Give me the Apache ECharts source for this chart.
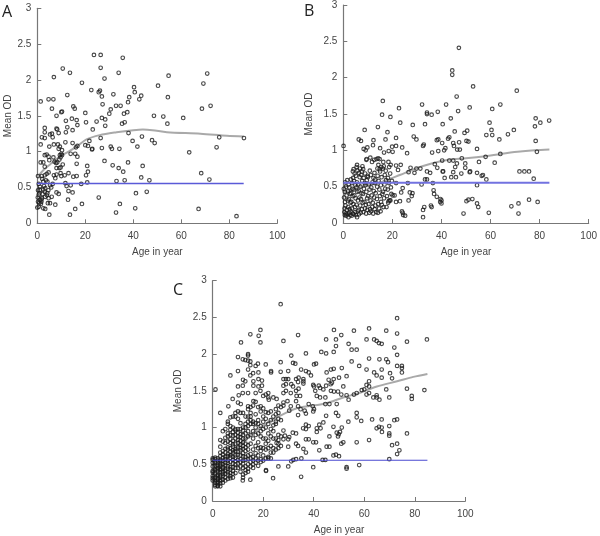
<!DOCTYPE html>
<html><head><meta charset="utf-8">
<script src="https://cdn.jsdelivr.net/npm/echarts@6/dist/echarts.min.js"></script>
<style>html,body{margin:0;padding:0;background:#fff}#c{width:600px;height:536px}</style>
</head><body><div id="c"></div>
<script>
const xTicks=[0,20,40,60,80,100];
const yTicks=[0,0.5,1,1.5,2,2.5,3];
const cutoff=0.555;
const trendA=[[0,.64],[2.5,.74],[6,.84],[9.4,.93],[13,1.0],[16.4,1.07],[20.5,1.17],[26,1.23],[33,1.27],[40,1.3],[44,1.31],[48,1.3],[54,1.27],[68,1.25],[79,1.22],[86,1.21]];
const trendB=[[0,.42],[5,.47],[10,.52],[16,.57],[23,.66],[29.5,.75],[36,.82],[43,.87],[50,.89],[58,.92],[64,.95],[71,.98],[78,1.0],[84,1.01]];
const trendC=[[0,.4],[5,.55],[10,.75],[15,.9],[20,1.03],[26.6,1.16],[33,1.26],[40,1.3],[45,1.33],[51.7,1.41],[58,1.47],[65,1.56],[73,1.63],[79.4,1.69],[85,1.73]];
const pointsA=[[23.6,2.35],[26.4,2.35],[35.6,2.31],[10.6,2.16],[13.6,2.1],[26.4,2.17],[33.9,2.1],[6.9,2.04],[28,2.02],[18.6,1.96],[40.3,1.9],[50.3,1.92],[54.7,2.06],[70.8,2.09],[69.2,1.95],[22.5,1.86],[26.1,1.85],[25.6,1.83],[40.6,1.83],[31.7,1.8],[12.5,1.79],[26.9,1.77],[38.3,1.76],[43.3,1.78],[54.4,1.76],[42.5,1.73],[1.4,1.7],[4.7,1.73],[6.7,1.73],[37.8,1.69],[27.2,1.66],[32.8,1.64],[34.7,1.64],[15,1.63],[15.6,1.6],[6.1,1.6],[68.6,1.6],[72.2,1.64],[10.3,1.56],[10,1.55],[20,1.54],[30,1.53],[30.6,1.59],[36.1,1.53],[37.5,1.55],[8,1.5],[48.6,1.5],[52.5,1.49],[60.8,1.47],[14.4,1.46],[11.9,1.43],[16.4,1.44],[20.3,1.41],[24.7,1.42],[26.9,1.47],[28.3,1.45],[16.7,1.37],[12.5,1.34],[28.3,1.36],[35.3,1.39],[36.4,1.41],[54.2,1.39],[3.1,1.33],[8,1.32],[8.3,1.31],[14.7,1.3],[11.9,1.27],[3.1,1.27],[23.1,1.31],[5.3,1.24],[6.1,1.25],[8.9,1.26],[38,1.26],[1.9,1.2],[3.1,1.19],[6.4,1.2],[26.4,1.19],[43.6,1.21],[39.7,1.15],[47.8,1.16],[75.8,1.2],[86.1,1.19],[21.7,1.15],[11.7,1.13],[14.7,1.12],[48.9,1.12],[1.4,1.1],[6.9,1.1],[8.6,1.1],[9.4,1.07],[5,1.07],[20,1.09],[21.1,1.08],[16.7,1.08],[16.1,1.06],[30.6,1.07],[31.1,1.04],[34.2,1.04],[41.7,1.07],[74.7,1.06],[26.9,1.05],[22.8,1.03],[22.9,1.04],[8.9,1.04],[10.3,1.02],[63.3,.99],[3.1,.95],[3.9,.96],[4.7,.93],[9.4,.95],[10,.97],[10.3,.95],[9.7,.92],[13.9,.97],[15.8,.97],[16.7,.93],[6.7,.92],[9.2,.89],[5,.88],[28,.87],[1.4,.85],[2.5,.85],[7.2,.86],[8.3,.85],[7.8,.84],[16.4,.83],[37.8,.85],[10.6,.82],[3.1,.79],[20.8,.8],[31.4,.81],[43.9,.8],[33.9,.77],[8,.77],[9.2,.77],[9.7,.78],[21.1,.72],[35.8,.72],[13,.7],[68.3,.7],[4.7,.71],[3.1,.67],[.3,.66],[1.9,.66],[3.9,.69],[6.9,.67],[8,.68],[9.7,.7],[10,.66],[11.4,.67],[15,.65],[16.4,.66],[20.3,.67],[43.3,.64],[71.7,.61],[7.5,.63],[3.6,.6],[2.5,.58],[33,.59],[36.4,.6],[46.7,.6],[20.8,.57],[.6,.55],[1.1,.51],[4.2,.58],[5.3,.53],[6.4,.55],[11.7,.56],[12.2,.52],[13.9,.53],[18.3,.55],[1.1,.46],[2.5,.47],[.3,.46],[3.1,.44],[13,.45],[14.7,.43],[41.1,.42],[45.6,.44],[8,.43],[8.9,.41],[4.2,.42],[.6,.4],[3.3,.37],[4.7,.35],[25.6,.36],[12.8,.33],[1.1,.33],[1.7,.33],[.3,.3],[.8,.28],[1.7,.3],[4.4,.28],[5.3,.28],[7.5,.26],[18.6,.27],[34.4,.27],[.6,.23],[2.5,.21],[3.3,.2],[15.8,.2],[40.8,.21],[67.2,.2],[5,.12],[13.6,.12],[32.8,.15],[83,.1],[0,.22],[1.9,.35],[1.5,.27],[.2,.36],[2.8,.52],[4,.39],[.9,.42],[2,.62],[3.3,.49],[2.2,.41],[4.6,.46],[5.8,.5],[6,.37]];
const pointsB=[[47.1,2.41],[44.4,2.1],[44.4,2.04],[52.9,1.88],[70.7,1.82],[46.2,1.74],[16.1,1.68],[22.7,1.58],[32.1,1.63],[41.9,1.63],[51.5,1.59],[60.7,1.57],[64,1.63],[34.1,1.52],[34.1,1.5],[36,1.49],[38.5,1.53],[46.8,1.54],[15.8,1.49],[19.2,1.46],[43.8,1.44],[78.4,1.44],[59.6,1.38],[23.2,1.38],[28.3,1.35],[33.3,1.36],[40.5,1.36],[80.3,1.38],[83.9,1.41],[78.1,1.33],[14.1,1.32],[8.7,1.28],[69.5,1.28],[45.4,1.26],[50.5,1.27],[49.4,1.24],[60.4,1.28],[60.7,1.21],[58.3,1.21],[67.1,1.22],[18,1.25],[28.7,1.19],[29.8,1.15],[43.2,1.18],[42.7,1.16],[6.3,1.15],[7.2,1.13],[12.3,1.14],[17.2,1.15],[21.5,1.17],[38.1,1.14],[38.7,1.15],[40.3,1.1],[44.8,1.1],[47.2,1.11],[50.2,1.13],[51,1.12],[63.6,1.15],[78.4,1.13],[.1,1.06],[12.1,1.07],[9.8,1.04],[8.3,1.02],[9.1,1],[15,1.03],[19.9,1.05],[21.5,1.06],[24,1.04],[32.5,1.06],[32.8,1.08],[41.6,1.03],[41.1,1],[38.7,.99],[45.1,1.06],[46.4,1.01],[54.5,1.02],[18.5,.99],[16.6,.97],[20.1,.98],[26,.96],[36.2,.97],[47.5,1.01],[78.9,.98],[64,.95],[9.4,.87],[11,.9],[12.6,.87],[14.2,.89],[14.8,.88],[48.3,.89],[58,.91],[40.3,.86],[43.2,.86],[44.8,.86],[55.3,.84],[61.7,.83],[46.3,.82],[49.7,.82],[37.3,.81],[21.5,.79],[23.4,.8],[49.7,.76],[38.3,.76],[27.4,.76],[29.8,.75],[31.4,.75],[45.6,.77],[22.3,.73],[40.5,.71],[40.7,.71],[34.1,.71],[35.4,.69],[26.6,.7],[29,.69],[51.5,.7],[51.7,.71],[54.5,.69],[48.1,.68],[44.8,.7],[56.4,.65],[56.9,.66],[58.3,.6],[71.8,.71],[73.8,.71],[75.7,.71],[77.6,.61],[41.3,.62],[44,.63],[45.9,.63],[34.1,.6],[33.3,.6],[36.5,.55],[26.3,.55],[31.9,.53],[54.5,.52],[21.5,.55],[36.8,.45],[37,.4],[38.1,.36],[39.6,.33],[40,.31],[39.5,.29],[40,.27],[35.7,.24],[36,.22],[33,.22],[32.5,.18],[32.5,.08],[51,.32],[50.2,.3],[52.6,.33],[54.5,.27],[55,.22],[49,.13],[59.3,.14],[68.5,.23],[71.4,.27],[71.4,.13],[75.7,.32],[79.2,.29],[24.2,.48],[23.6,.42],[27.1,.42],[28.2,.41],[27.9,.37],[26.6,.31],[23.1,.3],[21.5,.29],[20.1,.38],[20.9,.38],[18.5,.3],[23.9,.16],[24.2,.14],[24.4,.11],[25.2,.1]];
const denseB=[[.08,[2.1,5.6]],[.1,[1.2,3.4]],[.11,[.6,2.8,5.2]],[.12,[1.7,4.3,6.4]],[.13,[1,3.9,9.3,12.2]],[.14,[2.4,7.1,10.6,14.1]],[.15,[.4,4.8,8.2,13.4]],[.16,[3,5.9,11.3,15.2]],[.18,[1.4,6.2,9.8]],[.19,[2.6,7.6,10.9,12.8]],[.2,[.5,3.6,8.8,14.6]],[.22,[2,4.7,11.8,16.4,17.6]],[.24,[.9,6.9,13.1]],[.25,[5.4,9.2,15.7]],[.26,[4.1,10.3,14.2]],[.28,[2.9,7.9,12,18.3]],[.29,[.7,3.3,8.6,15.4]],[.31,[1.8,6,11.1,18.9,19.2]],[.33,[2.3,7.2,13.7]],[.34,[5,9.7,16.6]],[.35,[.3,6.6,12.6]],[.37,[3.8,10.1,14.9,17.8]],[.38,[1.3,4.5,11.6]],[.4,[2.7,8,15.9,19.6]],[.41,[3.2,7.4,13.2]],[.43,[.6,5.7,9.4,16.2]],[.44,[1.9,6.3,12.4]],[.46,[4.2,10.7,14.7,18.1]],[.47,[.2,3.7,8.4,17.1]],[.49,[2.5,5.3,11.4,19.4]],[.5,[1.1,7,13.8]],[.52,[4.9,9,15.3]],[.53,[2.2,6.1,10.4,16.8]],[.55,[3.5,8.7,12.9,18.6]],[.56,[.8,5.5,11.9]],[.58,[4.4,7.7,14.4,19.8]],[.59,[1.6,9.6,17.4]],[.6,[3.1,13]],[.62,[4,8.3,12.3,18.2]],[.63,[6.7,10,15.6]],[.65,[5.1,9.9,14]],[.66,[7.3,11.2,16.9]],[.68,[4.6,8.9,19.1]],[.69,[6.4,12.7]],[.71,[3.9,7.5,15]],[.72,[5.8,10.8,17.3]],[.74,[4.2,8.1,14.8]],[.75,[6.8,13.9,16.1]],[.77,[5.4,15.5,18.7]],[.78,[7.8,16.5]],[.8,[5.6,14.3,19.3]],[.84,[11.7,16.3,18.4]],[.88,[9.5,13.5]]];
const pointsC=[[26.9,2.68],[73,2.49],[48,2.33],[18.9,2.33],[61.9,2.35],[55.9,2.32],[68.7,2.32],[14.9,2.27],[33.8,2.26],[18.2,2.25],[73,2.28],[50.9,2.26],[44.9,2.2],[48.8,2.2],[60.9,2.2],[63.9,2.2],[84.8,2.2],[11.2,2.16],[18.9,2.16],[28,2.18],[64.9,2.18],[65.8,2.15],[66.9,2.14],[76.9,2.17],[53.8,2.14],[48.8,2.11],[71.9,2.09],[55,2.06],[57,2.06],[43,2.03],[44.9,2.01],[47.9,2.03],[36.9,2.01],[73,1.99],[14,2],[14,1.98],[10,1.96],[31.1,1.98],[61.9,1.94],[66,1.93],[68.7,1.93],[11.9,1.93],[12.9,1.92],[14,1.91],[69.4,1.89],[14.9,1.9],[26.9,1.89],[55,1.9],[31.8,1.88],[32.7,1.87],[40.1,1.86],[40.9,1.87],[17.9,1.87],[17,1.84],[21,1.86],[58,1.84],[73,1.84],[74.9,1.84],[74.9,1.81],[14.9,1.85],[51.1,1.81],[46.8,1.79],[47.9,1.8],[60.9,1.79],[66.9,1.79],[35,1.79],[14,1.79],[10,1.77],[18.1,1.75],[14.9,1.71],[16,1.74],[23.1,1.77],[23.1,1.75],[26.9,1.76],[29.9,1.77],[36.9,1.77],[38,1.75],[45.1,1.75],[63.9,1.75],[74.9,1.75],[70.2,1.74],[64.9,1.71],[66.9,1.68],[71,1.67],[7,1.71],[38.9,1.71],[53,1.7],[50,1.68],[47.9,1.66],[45.9,1.65],[28,1.66],[29,1.66],[29.9,1.66],[33,1.66],[34,1.68],[35.9,1.66],[12,1.65],[12.9,1.63],[16.1,1.63],[18.1,1.66],[19.5,1.64],[35.9,1.63],[35.9,1.6],[33.8,1.62],[61.9,1.63],[47.2,1.61],[28,1.57],[29,1.59],[31.1,1.59],[31.8,1.56],[10,1.56],[11.9,1.57],[16.1,1.57],[18.1,1.56],[19.5,1.57],[39.8,1.58],[40.1,1.56],[42,1.57],[42.5,1.54],[44.9,1.57],[46.7,1.59],[51.7,1.56],[60.9,1.58],[61.9,1.56],[1.1,1.52],[28,1.47],[29,1.5],[33,1.5],[34,1.53],[40.6,1.5],[43.8,1.52],[46.8,1.5],[48,1.49],[49.6,1.49],[50.9,1.45],[53,1.44],[55.9,1.45],[57,1.47],[59,1.51],[60,1.52],[61.9,1.47],[60.9,1.45],[64.9,1.44],[68.7,1.52],[76.9,1.53],[83.8,1.51],[78.8,1.43],[78.8,1.39],[69.9,1.41],[66,1.38],[63.6,1.41],[64.9,1.41],[53.8,1.38],[10.3,1.44],[11.9,1.47],[14,1.47],[17,1.47],[18.9,1.5],[21,1.45],[22,1.47],[24,1.41],[22,1.41],[25.3,1.39],[20,1.43],[7.9,1.39],[6.2,1.29],[10,1.34],[11.1,1.32],[14,1.29],[16.1,1.36],[17,1.35],[19,1.29],[20,1.26],[21,1.21],[22.2,1.38],[28,1.34],[28,1.3],[29.6,1.36],[30.9,1.47],[33.2,1.43],[34.6,1.43],[33,1.36],[30.9,1.29],[33.8,1.29],[38,1.32],[39.6,1.29],[40.1,1.25],[39.8,1.22],[44.6,1.32],[46.2,1.32],[49.1,1.32],[41.2,1.43],[42.5,1.41],[44.6,1.41],[33.8,1.17],[30.3,1.23],[34.8,1.25],[36.4,1.23],[36.9,1.19],[57,1.2],[48.8,1.2],[49.7,1.16],[44.9,1.16],[57,1.14],[58.8,1.09],[53.7,1.08],[63.1,1.11],[66.9,1.11],[71.9,1.1],[73,1.11],[43.8,1.07],[42.2,1.04],[47.8,1.01],[66.9,1],[65.8,1.01],[64.9,.99],[69.9,1.02],[51.1,1],[36.9,1.04],[38,1.02],[36.9,.98],[35.8,.99],[41.2,.99],[42.7,.99],[41.2,.94],[67,.94],[69.9,.92],[69.9,.89],[76.9,.92],[46.2,.88],[50.4,.94],[49.1,.93],[49.9,.91],[49.6,.88],[28,.96],[31.7,.93],[33,.92],[28.6,.89],[30.3,.87],[36.9,.84],[38,.84],[39.8,.8],[40.9,.8],[51.7,.8],[50.9,.78],[57,.8],[61.9,.83],[71,.76],[73,.78],[45.1,.74],[46.2,.74],[42.2,.69],[73.9,.69],[73,.64],[35.9,.71],[36.9,.66],[33,.78],[33.8,.75],[29.9,.74],[25.3,.79],[26,.83],[28,.84],[29.9,.84],[47.8,.62],[48.8,.63],[50,.61],[69.9,.57],[35.1,.58],[33,.57],[31.9,.56],[31.1,.54],[43.5,.56],[44.6,.56],[58,.49],[53,.46],[53,.44],[39.8,.46],[29.9,.47],[26,.47],[35,.33],[23.9,.31],[21.1,.42],[21.1,.41],[14.9,.29],[11.9,.28]];
const denseC=[[0,[.28,.31,.34,.39,.41,.47,.52,.56,.58]],[1,[.2,.22,.25,.27,.29,.32,.36,.38,.42,.44,.48,.51,.53,.57,.59]],[2,[.2,.21,.24,.26,.29,.31,.34,.36,.4,.43,.45,.49,.52,.55,.58]],[3,[.2,.24,.27,.29,.33,.35,.39,.42,.44,.48,.5,.54,.56,.61,.66,.74,.83,1.2]],[4,[.25,.29,.34,.37,.4,.44,.46,.5,.55,.59,.63,.68,.81,.95]],[5,[.28,.32,.37,.41,.43,.49,.52,.57,.6,.66,.71,.79,.86,.98]],[6,[.3,.36,.39,.44,.47,.52,.55,.61,.64,.7,.73,.81,.88,.92,1.05,1.08]],[7,[.31,.34,.38,.43,.46,.53,.59,.62,.67,.72,.79,.84,.9,.97,1.02,1.14]],[8,[.32,.37,.41,.46,.51,.56,.6,.66,.69,.74,.77,.82,.89,.94,1,1.15]],[9,[.38,.45,.5,.54,.59,.62,.68,.71,.78,.85,.9,.96,.98,1.15,1.2]],[10,[.45,.51,.56,.63,.67,.73,.79,.83,.88,.93,.98,1.12,1.22]],[11,[.4,.47,.53,.57,.62,.69,.72,.77,.82,.87,.91,.98,1.06,1.2]],[12,[.32,.36,.45,.51,.55,.61,.65,.71,.75,.8,.85,.9,.96,1,1.2]],[13,[.38,.42,.47,.56,.6,.68,.73,.78,.85,.92,1,1.05,1.15]],[14,[.4,.44,.5,.57,.62,.7,.76,.88,.95,1.02,1.08,1.15,1.25]],[15,[.47,.53,.58,.64,.78,.9,1.05,1.1,1.15,1.2,1.28]],[16,[.45,.5,.55,.6,.7,.85,.95,1.05,1.08,1.3]],[17,[.52,.58,.65,.75,.9,1,1.06,1.18]],[18,[.48,.55,.62,.72,.8,.92,1.05,1.1,1.28]],[19,[.53,.57,.68,.73,.88,.95,1.02,1.22]],[20,[.55,.62,.72,.85,.98,1.08,1.15]],[21,[.58,.7,.78,.85,1,1.12]],[22,[.58,.6,.72,.82,.92,1.05,1.2]],[23,[.58,.66,.75,.88,.98,1.1,1.22]],[24,[.66,.72,.85,.95,1.03,1.15]],[25,[.7,.85,1.05,1.08,1.18,1.25]],[26,[.72,.78,.9,1.12,1.2,1.3]],[27,[.75,.88,1.1,1.28]]];
const expandB=rows=>rows.flatMap(([od,ages])=>ages.map(a=>[a,od]));
const expandC=rows=>rows.flatMap(([a,vals])=>vals.map(v=>[a,v]));
const panels=[
 {letter:'A',lx:2,ly:4,pts:pointsA,trend:trendA,end:86,yGap:24,blue:{color:'#5a5ad8',width:1.4},grid:{left:37.3,top:8.3,width:240,height:215}},
 {letter:'B',lx:304,ly:3,pts:pointsB.concat(expandB(denseB)),trend:trendB,end:84,yGap:29,blue:{color:'#7272e0',width:2},grid:{left:343.3,top:5,width:248.4,height:218}},
 {letter:'C',lx:173,ly:282,pts:pointsC.concat(expandC(denseC)),trend:trendC,end:85,yGap:29,blue:{color:'#4a4ad0',width:1.2},grid:{left:212.7,top:280.7,width:252.6,height:221.6}}
];
const axisLine={lineStyle:{color:'#777',width:1.2}};
const axisTick={inside:true,length:4,lineStyle:{color:'#777',width:1}};
const label={color:'#444',fontSize:10,fontFamily:'Liberation Sans'};
const nameStyle={color:'#444',fontSize:10,fontFamily:'Liberation Sans'};
const opt={animation:false,backgroundColor:'#fff',
 title:panels.map(p=>({text:p.letter,left:p.lx,top:p.ly,padding:0,textStyle:{fontFamily:'Open Sans',fontSize:16,fontWeight:'normal',color:'#222'}})),
 grid:panels.map(p=>p.grid),
 xAxis:panels.map((p,i)=>({type:'value',gridIndex:i,min:0,max:100,interval:20,name:'Age in year',nameLocation:'middle',nameGap:24,nameTextStyle:nameStyle,axisLine:{show:true,...axisLine},axisTick:{show:true,...axisTick},axisLabel:{...label,margin:8},splitLine:{show:false}})),
 yAxis:panels.map((p,i)=>({type:'value',gridIndex:i,min:0,max:3,interval:.5,name:'Mean OD',nameLocation:'middle',nameGap:p.yGap,nameTextStyle:nameStyle,axisLine:{show:true,...axisLine},axisTick:{show:true,...axisTick},axisLabel:{...label,margin:6,formatter:v=>String(v)},splitLine:{show:false}})),
 series:panels.flatMap((p,i)=>[
  {type:'line',xAxisIndex:i,yAxisIndex:i,data:p.trend,showSymbol:false,smooth:.3,lineStyle:{color:'#a9a9a9',width:2},z:2},
  {type:'scatter',xAxisIndex:i,yAxisIndex:i,data:p.pts,symbol:'circle',symbolSize:3.6,itemStyle:{color:'rgba(255,255,255,0)',borderColor:'#1a1a1a',borderWidth:1.15},z:3},
  {type:'line',xAxisIndex:i,yAxisIndex:i,data:[[0,cutoff],[p.end,cutoff]],showSymbol:false,lineStyle:p.blue,z:4}
 ])
};
echarts.init(document.getElementById('c'),null,{renderer:'canvas'}).setOption(opt);
</script></body></html>
